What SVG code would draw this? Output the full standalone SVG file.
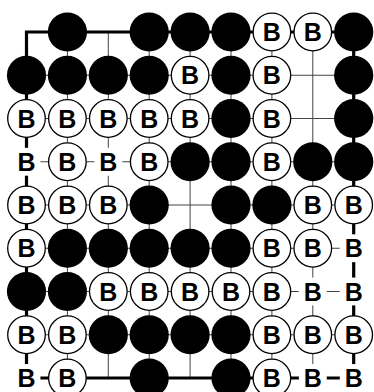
<svg xmlns="http://www.w3.org/2000/svg" width="374" height="392" viewBox="0 0 374 392">
<style>
.bg{fill:#fff}
.thin{stroke:#444;stroke-width:1;fill:none}
.edge{stroke:#000;stroke-width:3.2;fill:none;stroke-linecap:square}
.blk{fill:#000}
.wht{fill:#fff;stroke:#000;stroke-width:1.3}
.gap{fill:#fff}
.lbl{font-family:"Liberation Sans",Arial,sans-serif;font-weight:bold;font-size:25px;text-anchor:middle;fill:#000}
</style>
<defs>
<circle id="b" r="19.6" class="blk"/>
<circle id="w" r="18.8" class="wht"/>
<circle id="g" r="14" class="gap"/>
</defs>
<rect class="bg" x="0" y="0" width="374" height="392"/>
<g id="connectors">
<path class="thin" d="M26.5 75.25H353.7M26.5 118.5H353.7M26.5 161.75H353.7M26.5 205H353.7M26.5 248.25H353.7M26.5 291.5H353.7M26.5 334.75H353.7"/>
<path class="thin" d="M67.4 32V378M108.3 32V378M149.2 32V378M190.1 32V378M231 32V378M271.9 32V378M312.8 32V378"/>
<path class="edge" d="M26.5 32H353.7V378H26.5Z"/>
</g>
<!-- row 0 -->
<g id="r0c1"><use href="#b" x="67.4" y="32"/></g>
<g id="r0c3"><use href="#b" x="149.2" y="32"/></g>
<g id="r0c4"><use href="#b" x="190.1" y="32"/></g>
<g id="r0c5"><use href="#b" x="231" y="32"/></g>
<g id="r0c6"><use href="#w" x="271.9" y="32"/><text class="lbl" x="271.9" y="41">B</text></g>
<g id="r0c7"><use href="#w" x="312.8" y="32"/><text class="lbl" x="312.8" y="41">B</text></g>
<g id="r0c8"><use href="#b" x="353.7" y="32"/></g>
<!-- row 1 -->
<g id="r1c0"><use href="#b" x="26.5" y="75.25"/></g>
<g id="r1c1"><use href="#b" x="67.4" y="75.25"/></g>
<g id="r1c2"><use href="#b" x="108.3" y="75.25"/></g>
<g id="r1c3"><use href="#b" x="149.2" y="75.25"/></g>
<g id="r1c4"><use href="#w" x="190.1" y="75.25"/><text class="lbl" x="190.1" y="84.25">B</text></g>
<g id="r1c5"><use href="#b" x="231" y="75.25"/></g>
<g id="r1c6"><use href="#w" x="271.9" y="75.25"/><text class="lbl" x="271.9" y="84.25">B</text></g>
<g id="r1c8"><use href="#b" x="353.7" y="75.25"/></g>
<!-- row 2 -->
<g id="r2c0"><use href="#w" x="26.5" y="118.5"/><text class="lbl" x="26.5" y="127.5">B</text></g>
<g id="r2c1"><use href="#w" x="67.4" y="118.5"/><text class="lbl" x="67.4" y="127.5">B</text></g>
<g id="r2c2"><use href="#w" x="108.3" y="118.5"/><text class="lbl" x="108.3" y="127.5">B</text></g>
<g id="r2c3"><use href="#w" x="149.2" y="118.5"/><text class="lbl" x="149.2" y="127.5">B</text></g>
<g id="r2c4"><use href="#w" x="190.1" y="118.5"/><text class="lbl" x="190.1" y="127.5">B</text></g>
<g id="r2c5"><use href="#b" x="231" y="118.5"/></g>
<g id="r2c6"><use href="#w" x="271.9" y="118.5"/><text class="lbl" x="271.9" y="127.5">B</text></g>
<g id="r2c8"><use href="#b" x="353.7" y="118.5"/></g>
<!-- row 3 -->
<g id="r3c0"><use href="#g" x="26.5" y="161.75"/><text class="lbl" x="26.5" y="170.75">B</text></g>
<g id="r3c1"><use href="#w" x="67.4" y="161.75"/><text class="lbl" x="67.4" y="170.75">B</text></g>
<g id="r3c2"><use href="#g" x="108.3" y="161.75"/><text class="lbl" x="108.3" y="170.75">B</text></g>
<g id="r3c3"><use href="#w" x="149.2" y="161.75"/><text class="lbl" x="149.2" y="170.75">B</text></g>
<g id="r3c4"><use href="#b" x="190.1" y="161.75"/></g>
<g id="r3c5"><use href="#b" x="231" y="161.75"/></g>
<g id="r3c6"><use href="#w" x="271.9" y="161.75"/><text class="lbl" x="271.9" y="170.75">B</text></g>
<g id="r3c7"><use href="#b" x="312.8" y="161.75"/></g>
<g id="r3c8"><use href="#b" x="353.7" y="161.75"/></g>
<!-- row 4 -->
<g id="r4c0"><use href="#w" x="26.5" y="205"/><text class="lbl" x="26.5" y="214">B</text></g>
<g id="r4c1"><use href="#w" x="67.4" y="205"/><text class="lbl" x="67.4" y="214">B</text></g>
<g id="r4c2"><use href="#w" x="108.3" y="205"/><text class="lbl" x="108.3" y="214">B</text></g>
<g id="r4c3"><use href="#b" x="149.2" y="205"/></g>
<g id="r4c5"><use href="#b" x="231" y="205"/></g>
<g id="r4c6"><use href="#b" x="271.9" y="205"/></g>
<g id="r4c7"><use href="#w" x="312.8" y="205"/><text class="lbl" x="312.8" y="214">B</text></g>
<g id="r4c8"><use href="#w" x="353.7" y="205"/><text class="lbl" x="353.7" y="214">B</text></g>
<!-- row 5 -->
<g id="r5c0"><use href="#w" x="26.5" y="248.25"/><text class="lbl" x="26.5" y="257.25">B</text></g>
<g id="r5c1"><use href="#b" x="67.4" y="248.25"/></g>
<g id="r5c2"><use href="#b" x="108.3" y="248.25"/></g>
<g id="r5c3"><use href="#b" x="149.2" y="248.25"/></g>
<g id="r5c4"><use href="#b" x="190.1" y="248.25"/></g>
<g id="r5c5"><use href="#b" x="231" y="248.25"/></g>
<g id="r5c6"><use href="#w" x="271.9" y="248.25"/><text class="lbl" x="271.9" y="257.25">B</text></g>
<g id="r5c7"><use href="#w" x="312.8" y="248.25"/><text class="lbl" x="312.8" y="257.25">B</text></g>
<g id="r5c8"><use href="#g" x="353.7" y="248.25"/><text class="lbl" x="353.7" y="257.25">B</text></g>
<!-- row 6 -->
<g id="r6c0"><use href="#b" x="26.5" y="291.5"/></g>
<g id="r6c1"><use href="#b" x="67.4" y="291.5"/></g>
<g id="r6c2"><use href="#w" x="108.3" y="291.5"/><text class="lbl" x="108.3" y="300.5">B</text></g>
<g id="r6c3"><use href="#w" x="149.2" y="291.5"/><text class="lbl" x="149.2" y="300.5">B</text></g>
<g id="r6c4"><use href="#w" x="190.1" y="291.5"/><text class="lbl" x="190.1" y="300.5">B</text></g>
<g id="r6c5"><use href="#w" x="231" y="291.5"/><text class="lbl" x="231" y="300.5">B</text></g>
<g id="r6c6"><use href="#w" x="271.9" y="291.5"/><text class="lbl" x="271.9" y="300.5">B</text></g>
<g id="r6c7"><use href="#g" x="312.8" y="291.5"/><text class="lbl" x="312.8" y="300.5">B</text></g>
<g id="r6c8"><use href="#g" x="353.7" y="291.5"/><text class="lbl" x="353.7" y="300.5">B</text></g>
<!-- row 7 -->
<g id="r7c0"><use href="#w" x="26.5" y="334.75"/><text class="lbl" x="26.5" y="343.75">B</text></g>
<g id="r7c1"><use href="#w" x="67.4" y="334.75"/><text class="lbl" x="67.4" y="343.75">B</text></g>
<g id="r7c2"><use href="#b" x="108.3" y="334.75"/></g>
<g id="r7c3"><use href="#b" x="149.2" y="334.75"/></g>
<g id="r7c4"><use href="#b" x="190.1" y="334.75"/></g>
<g id="r7c5"><use href="#b" x="231" y="334.75"/></g>
<g id="r7c6"><use href="#w" x="271.9" y="334.75"/><text class="lbl" x="271.9" y="343.75">B</text></g>
<g id="r7c7"><use href="#w" x="312.8" y="334.75"/><text class="lbl" x="312.8" y="343.75">B</text></g>
<g id="r7c8"><use href="#w" x="353.7" y="334.75"/><text class="lbl" x="353.7" y="343.75">B</text></g>
<!-- row 8 -->
<g id="r8c0"><use href="#g" x="26.5" y="378"/><text class="lbl" x="26.5" y="387">B</text></g>
<g id="r8c1"><use href="#w" x="67.4" y="378"/><text class="lbl" x="67.4" y="387">B</text></g>
<g id="r8c3"><use href="#b" x="149.2" y="378"/></g>
<g id="r8c5"><use href="#b" x="231" y="378"/></g>
<g id="r8c6"><use href="#w" x="271.9" y="378"/><text class="lbl" x="271.9" y="387">B</text></g>
<g id="r8c7"><use href="#g" x="312.8" y="378"/><text class="lbl" x="312.8" y="387">B</text></g>
<g id="r8c8"><use href="#g" x="353.7" y="378"/><text class="lbl" x="353.7" y="387">B</text></g>
</svg>
